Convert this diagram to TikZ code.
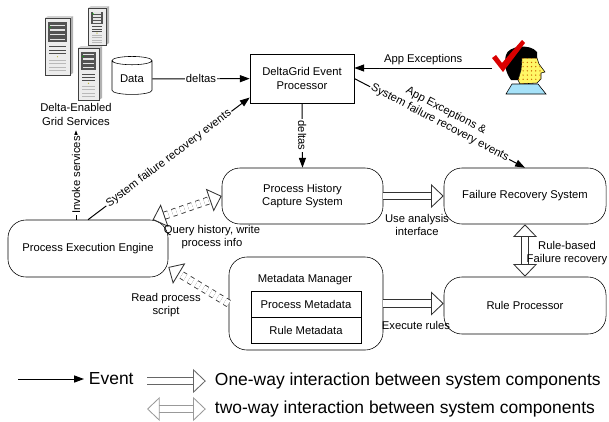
\documentclass[tikz,border=0pt]{standalone}
\usepackage{fontspec}
\setmainfont{Liberation Sans}
\usetikzlibrary{arrows.meta,shapes.geometric,patterns}

% tower server at (left, top) with width and height
\newcommand\drawserver[4]{%
  \fill[gray!60] (#1+#3,#2) -- (#1+#3+3,#2-2) -- (#1+#3+3,#2+#4-2) -- (#1+#3,#2+#4) -- cycle;
  \fill[gray!35] (#1,#2) -- (#1+3,#2-2) -- (#1+#3+3,#2-2) -- (#1+#3,#2) -- cycle;
  \draw[gray!50!black, fill=gray!15] (#1,#2) rectangle (#1+#3,#2+#4);
  \fill[gray!65!black] (#1+3,#2+4) rectangle (#1+#3-3,#2+0.42*#4);
  \foreach \k in {0.12,0.2,0.28,0.36}
    \fill[gray!20] (#1+5,#2+\k*#4) rectangle (#1+#3-5,#2+\k*#4+1.2);
  \fill[green!70!black] (#1+5,#2+0.16*#4) circle (0.8);
  \foreach \k in {0.5,0.56,0.62}
    \draw[gray!60!black, line width=0.3pt] (#1+4,#2+\k*#4) -- (#1+#3-4,#2+\k*#4);
  \foreach \k in {0.74,0.8,0.86,0.92}
    \draw[gray!55, line width=0.3pt] (#1+4,#2+\k*#4) -- (#1+#3-4,#2+\k*#4);
  \fill[yellow!70!black] (#1+0.5*#3,#2+0.68*#4) circle (0.7);
}

\begin{document}
\begin{tikzpicture}[x=0.025cm, y=-0.025cm, font=\fontsize{8}{9.5}\selectfont]
  \tikzstyle{comp} = [draw, rounded corners=0.45cm, minimum width=4cm, minimum height=1.4cm, align=center]
  \tikzstyle{tbox} = [draw, align=center, minimum width=2.75cm, minimum height=0.65cm]
  \tikzstyle{evt} = [-{Triangle[length=7pt,width=5pt]}, line width=0.7pt]
  \tikzstyle{oneway} = [draw=black!80, line width=0.6pt, double, double distance=4.5pt, -{Triangle[open,length=9pt,width=17pt]}]
  \tikzstyle{twoway} = [oneway, {Triangle[open,length=9pt,width=17pt]}-{Triangle[open,length=9pt,width=17pt]}]
  \tikzstyle{lbl} = [fill=white, inner sep=1pt, align=center]
  \tikzstyle{big} = [font=\fontsize{12.4}{14}\selectfont, anchor=west]
  \useasboundingbox (0,0) rectangle (609,421);

  % grid services
  \drawserver{45}{18}{25}{57}
  \drawserver{88}{8}{18}{37}
  \drawserver{78}{48}{21}{52}
  \node[align=center] (degs) at (76,114.5) {Delta-Enabled\\Grid Services};

  % user
  \fill (506,55) .. controls (508,46) and (530,43) .. (537,52) -- (537,58) -- (522,58)
    -- (521,70) -- (518,80) -- (511,80) .. controls (505,72) and (504,62) .. (506,55);
  \draw[fill=yellow!60] (522,58) -- (537,58) -- (539,64) -- (545,72) -- (541,73) -- (541,79)
    -- (537,83) -- (520,84) -- (518,80) -- (521,70) -- cycle;
  \fill[pattern=dots, pattern color=orange!80!black] (522,58) -- (537,58) -- (539,64) -- (545,72)
    -- (541,73) -- (541,79) -- (537,83) -- (520,84) -- (518,80) -- (521,70) -- cycle;
  \draw[fill=cyan!35] (512,84) -- (538,84) -- (546,94) -- (506,94) -- cycle;
  \fill[red!85!black] (492,58) -- (496,55) -- (502,63) -- (522,40) -- (525,43) -- (503,72) -- cycle;
  \coordinate (user) at (492,68);

  % components
  \node[draw, cylinder, shape border rotate=90, aspect=0.25, minimum width=1cm, minimum height=0.95cm] (data) at (132,79) {Data};
  \node[draw, minimum width=2.6cm, minimum height=1.225cm, align=center] (deg) at (302,78.5) {DeltaGrid Event\\Processor};
  \node[comp, minimum height=1.425cm] (pee) at (88,248.5) {Process Execution Engine};
  \node[comp, minimum width=4.025cm] (phc) at (302.5,196) {Process History\\Capture System};
  \node[comp, minimum width=4.05cm] (frs) at (525,196) {Failure Recovery System};
  \node[comp, minimum width=4.05cm, minimum height=1.425cm] (rp) at (525,305.5) {Rule Processor};
  \node[comp, minimum width=3.85cm, minimum height=2.325cm] (mm) at (306,303.5) {};
  \node (mmtitle) at (305,280) {Metadata Manager};
  \node[tbox] (pm) at (306,304) {Process Metadata};
  \node[tbox] (rm) at (306,330) {Rule Metadata};

  % events
  \path[evt] (data) edge node[lbl] {deltas} (deg);
  \path[evt] (user) edge node[above, inner sep=2pt] {App Exceptions} (user -| deg.east);
  \path[evt] (deg.east) edge node[sloped, lbl, yshift=5pt] {App Exceptions \&\\System failure recovery events} (frs.north);
  \path[evt] (deg.south) edge node[sloped, lbl] {deltas} (phc.north);
  \path[evt] (pee.north -| degs.south) edge node[sloped, lbl] {Invoke services} (degs.south);
  \path[evt] (pee.north) edge node[sloped, lbl] {System failure recovery events} (deg.-160);

  % interactions
  \path (phc) edge[oneway] (frs);
  \path (mm.east) edge[oneway] (mm.east -| rp.west);
  \path (frs) edge[twoway] (rp);
  \path (pee.24) edge[twoway, dashed] (phc.west);
  \path (mm.west) edge[oneway, dashed] (pee.-13);

  \node[align=center] (qh) at (212,237) {Query history, write\\process info};
  \node[align=center] (rps) at (166,305) {Read process\\script};
  \node[align=center] (ua) at (417,225) {Use analysis\\interface};
  \node (er) at (416,325) {Execute rules};
  \node[align=center] (rb) at (567,253) {Rule-based\\Failure recovery};

  % legend
  \coordinate (ev) at (18,379);
  \node[big] (evlbl) at (84,379) {Event};
  \path[evt] (ev) edge (evlbl.west);
  \coordinate (ow) at (147,381);
  \node[big] (owlbl) at (210,381) {One-way interaction between system components};
  \path (ow) edge[oneway, draw=black!60, shorten >=3pt] (owlbl.west);
  \coordinate (tw) at (147,409);
  \node[big] (twlbl) at (210,409) {two-way interaction between system components};
  \path (tw) edge[twoway, draw=black!40, shorten >=3pt] (twlbl.west);
\end{tikzpicture}
\end{document}
